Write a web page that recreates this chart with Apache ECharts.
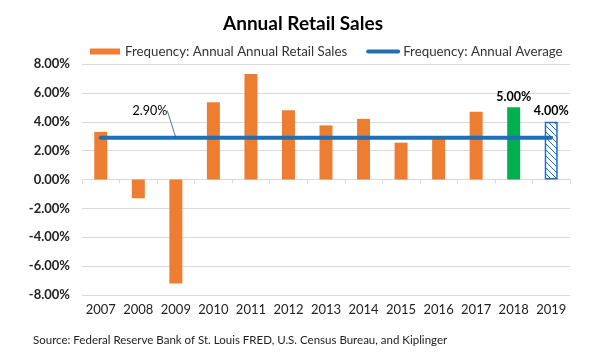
<!DOCTYPE html>
<html><head><meta charset="utf-8">
<script src="https://cdn.jsdelivr.net/npm/echarts@6/dist/echarts.min.js"></script>
<style>html,body{margin:0;padding:0;background:#fff}#c{width:606px;height:353px}</style>
</head><body><div id="c"></div>
<script>
const years = ['2007','2008','2009','2010','2011','2012','2013','2014','2015','2016','2017','2018','2019'];
const salesValues = [3.3, -1.3, -7.2, 5.35, 7.3, 4.8, 3.75, 4.2, 2.55, 2.9, 4.7, 5.0, 4.0];
const averageValue = 2.9;
const averageValues = years.map(() => averageValue);
const yTicks = [-8, -6, -4, -2, 0, 2, 4, 6, 8];
const sourceText = 'Source: Federal Reserve Bank of St. Louis FRED, U.S. Census Bureau, and Kiplinger';

const FONT = 'Lato, "Open Sans", sans-serif';
const ORANGE = '#ED7D31', GREEN = '#00B050', BLUE = '#1F6FB5';

// hatch pattern for forecast bar
const pc = document.createElement('canvas');
pc.width = 6; pc.height = 6;
const px = pc.getContext('2d');
px.fillStyle = '#fff'; px.fillRect(0,0,6,6);
px.strokeStyle = '#2E6BB0'; px.lineWidth = 1;
px.beginPath();
px.moveTo(0,0); px.lineTo(6,6);
px.moveTo(-3,3); px.lineTo(3,9);
px.moveTo(3,-3); px.lineTo(9,3);
px.stroke();

const topLabel = (txt) => ({show: true, position: 'top', formatter: txt, fontWeight: 'bold', fontSize: 12.5, color: '#000', fontFamily: FONT, distance: 4});
const barData = salesValues.map((v, i) => {
  if (i === years.length - 2) return {value: v, itemStyle: {color: GREEN}, label: topLabel(v.toFixed(2) + '%')};
  if (i === years.length - 1) return {value: v, itemStyle: {color: {image: pc, repeat: 'repeat'}, borderColor: '#2E6BB0', borderWidth: 1.5},
    label: topLabel(v.toFixed(2) + '%')};
  return v;
});

const lineData = averageValues.map((v, i) => i === 2 ? {value: v,
  label: {show: true, formatter: averageValue.toFixed(2) + '%', fontSize: 12.5, color: '#000', fontFamily: FONT, position: 'top', distance: 0},
  labelLine: {show: true, lineStyle: {color: '#2E4F8F', width: 0.8}}} : v);

const chart = echarts.init(document.getElementById('c'), null, {renderer: 'canvas'});
chart.setOption({
  animation: false,
  title: [
    {text: 'Annual Retail Sales', left: 'center', top: 9,
      textStyle: {fontFamily: FONT, fontWeight: 'bold', fontSize: 19, color: '#000'}},
    {text: sourceText, left: 28, top: 329,
      textStyle: {fontFamily: FONT, fontWeight: 'normal', fontSize: 11.5, color: '#222'}}
  ],
  legend: {top: 40, left: 85, itemGap: 19, itemWidth: 30, itemHeight: 6,
    textStyle: {fontFamily: FONT, fontSize: 13.3, color: '#333'},
    data: [{name: 'Frequency: Annual Annual Retail Sales', icon: 'rect'},
           {name: 'Frequency: Annual Average', itemStyle: {opacity: 0}, lineStyle: {width: 4, cap: 'round'}}]},
  grid: {left: 82, right: 36, top: 64, bottom: 58},
  xAxis: [
    {type: 'category', data: years, position: 'bottom',
      axisLine: {show: false}, axisTick: {show: false},
      axisLabel: {interval: 0, fontFamily: FONT, fontSize: 13, color: '#222', margin: 8}},
    {type: 'category', data: years, position: 'bottom',
      axisLine: {show: true, onZero: true, onZeroAxisIndex: 0, lineStyle: {color: '#d9d9d9'}},
      axisTick: {show: true, interval: 0, length: 4, lineStyle: {color: '#d9d9d9'}},
      axisLabel: {show: false}}
  ],
  yAxis: {type: 'value', min: yTicks[0], max: yTicks[yTicks.length-1], interval: 2,
    axisLine: {show: false}, axisTick: {show: false},
    splitLine: {lineStyle: {color: '#d9d9d9'}},
    axisLabel: {fontFamily: FONT, fontSize: 13, fontWeight: 'bold', color: '#222', margin: 12,
      formatter: v => v.toFixed(2) + '%'}},
  series: [
    {name: 'Frequency: Annual Annual Retail Sales', type: 'bar', xAxisIndex: 1, data: barData,
      barWidth: 13, itemStyle: {color: ORANGE}},
    {name: 'Frequency: Annual Average', type: 'line', xAxisIndex: 1, data: lineData,
      symbol: 'circle', symbolSize: 1, lineStyle: {color: BLUE, width: 4, cap: 'round'}, itemStyle: {color: BLUE},
      labelLayout: {dx: -26, dy: -20}, z: 5}
  ]
});
</script></body></html>
